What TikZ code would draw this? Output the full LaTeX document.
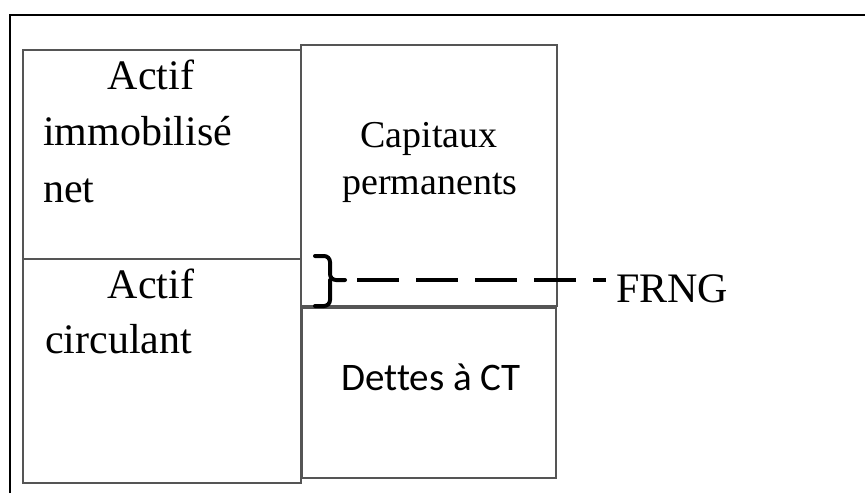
\documentclass[tikz,border=0pt]{standalone}
\usepackage{fontspec}
\setmainfont{Liberation Serif}
\newfontfamily\calib[Ligatures={NoCommon}]{Carlito}
\begin{document}
\begin{tikzpicture}[x=1pt,y=-1pt,
  boxline/.style={draw={rgb,255:red,85;green,85;blue,85}, line width=2.2pt,
    inner sep=0pt, outer sep=0pt},
  big/.style={font=\fontsize{42}{50}\selectfont, inner sep=0pt},
  mid/.style={font=\fontsize{38}{45}\selectfont, inner sep=0pt},
  sans/.style={font=\calib\fontsize{39}{46}\selectfont, inner sep=0pt},
  bracket/.style={line width=4pt, rounded corners=6pt, line cap=round},
  dashline/.style={line width=4.5pt, dash pattern=on 42pt off 17pt, dash phase=47pt}]
\useasboundingbox (0,0) rectangle (865,493);

% frame
\draw[line width=1.5pt] (10,493) -- (10,15) -- (865,15);

% assets column
\node[boxline, minimum width=278pt, minimum height=209pt] (fixed) at (162,154.5) {};
\node[boxline, minimum width=278pt, minimum height=224pt] (current) at (162,371) {};

% liabilities column
\node[boxline, minimum width=256pt, minimum height=261pt] (perm) at (429,175.5) {};
\node[boxline, minimum width=254pt, minimum height=170pt] (debt) at (429,393) {};

% labels
\node[big, anchor=base] (a1) at (151,89) {Actif};
\node[big, anchor=base west] (a2) at (43,145) {immobilisé};
\node[big, anchor=base west] (a3) at (43,202) {net};
\node[big, anchor=base] (c1) at (151,298) {Actif};
\node[big, anchor=base west] (c2) at (45,353) {circulant};
\node[mid, anchor=base] (p1) at (429,147) {Capitaux};
\node[mid, anchor=base] (p2) at (430,194) {permanents};
\node[sans, anchor=base] (d1) at (431,390) {Dettes à CT};
\node[big, anchor=base west] (frng) at (616,302) {FRNG};

% brace marking the working capital
\coordinate (tip) at (345,280);
\draw[bracket] (315,256) -- (330,256) -- (330,280) -- (tip);
\draw[bracket] (315,306) -- (330,306) -- (330,280);
\draw[dashline, shorten >=10pt] (tip) -- (frng.west |- tip);
\end{tikzpicture}
\end{document}
